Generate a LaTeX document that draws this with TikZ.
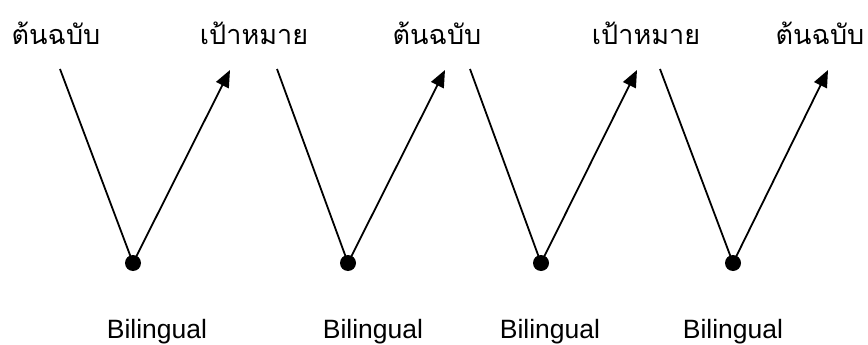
\documentclass[tikz,border=0pt]{standalone}
\usepackage{fontspec}
\setmainfont{Liberation Sans}
\newfontfamily\thaifont[Script=Thai]{Loma}
\usetikzlibrary{arrows.meta}
\tikzset{
  dot/.style={circle, fill, inner sep=0pt, minimum size=16pt},
  thlabel/.style={font=\thaifont\fontsize{27}{30}\selectfont, anchor=base, inner sep=0pt},
  bilabel/.style={font=\fontsize{26.5}{30}\selectfont, anchor=base, inner sep=0pt},
  toarrow/.style={-{Triangle[length=17pt,width=14pt]}},
}
\begin{document}
\begin{tikzpicture}[x=1pt, y=-1pt, line width=1.8pt]
    \useasboundingbox (0,0) rectangle (868,345);
    % top labels
    \node[thlabel] (src1) at (56,45){ต้นฉบับ};
    \node[thlabel] (tgt1) at (254,45){เป้าหมาย};
    \node[thlabel] (src2) at (437,45){ต้นฉบับ};
    \node[thlabel] (tgt2) at (646,45){เป้าหมาย};
    \node[thlabel] (src3) at (820,45){ต้นฉบับ};
    % line ends under the labels
    \coordinate (a1) at (60,69);
    \coordinate (a2) at (230,70);
    \coordinate (a3) at (277,69);
    \coordinate (a4) at (445,70);
    \coordinate (a5) at (470,69);
    \coordinate (a6) at (637,70);
    \coordinate (a7) at (660,69);
    \coordinate (a8) at (828,70);
    % bilingual points
    \node[dot] (b1) at (133,263){};
    \node[dot] (b2) at (348,263){};
    \node[dot] (b3) at (541,263){};
    \node[dot] (b4) at (733,263){};
    \draw(a1)--(b1.center);
    \draw[toarrow](b1.center)--(a2);
    \draw(a3)--(b2.center);
    \draw[toarrow](b2.center)--(a4);
    \draw(a5)--(b3.center);
    \draw[toarrow](b3.center)--(a6);
    \draw(a7)--(b4.center);
    \draw[toarrow](b4.center)--(a8);
    % bottom labels
    \node[bilabel] (l1) at (157,338){Bilingual};
    \node[bilabel] (l2) at (373,338){Bilingual};
    \node[bilabel] (l3) at (550,338){Bilingual};
    \node[bilabel] (l4) at (733,338){Bilingual};
  \end{tikzpicture}
\end{document}
